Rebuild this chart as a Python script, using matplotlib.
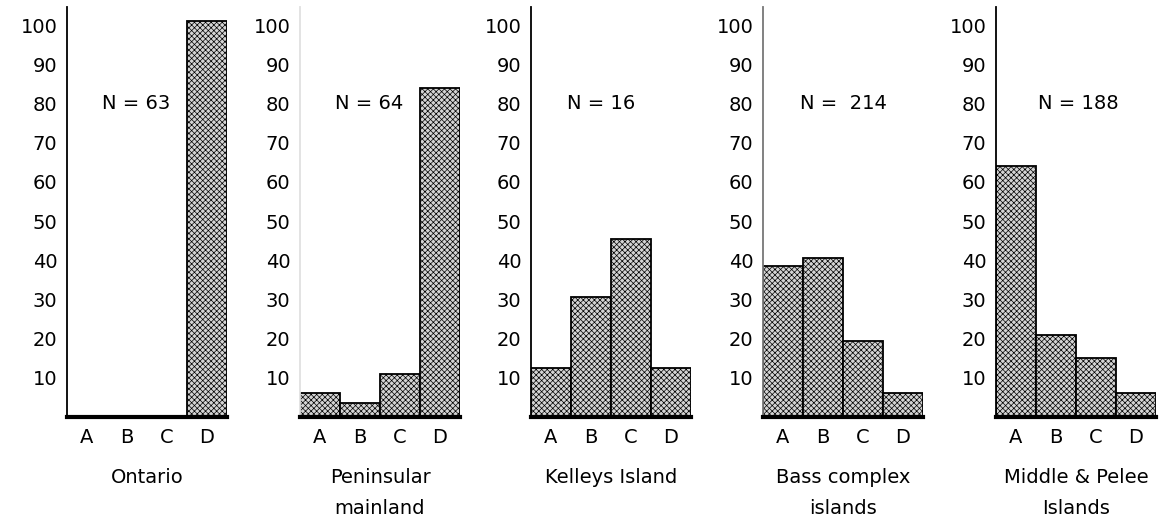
import matplotlib
matplotlib.use("Agg")
import matplotlib.pyplot as plt

plt.rcParams['font.family'] = ['DejaVu Sans']
plt.rcParams['hatch.color'] = '#9a9a9a'
plt.rcParams['hatch.linewidth'] = 0.5

categories = ['A', 'B', 'C', 'D']
regions = ['Ontario', 'Peninsular\nmainland', 'Kelleys Island',
           'Bass complex\nislands', 'Middle & Pelee\nIslands']
n_labels = ['N = 63', 'N = 64', 'N = 16', 'N =  214', 'N = 188']
ontario = [0, 0, 0, 101]
peninsular = [6, 3.5, 11, 84]
kelleys = [12.5, 30.5, 45.5, 12.5]
bass = [38.5, 40.5, 19.5, 6]
middle_pelee = [64, 21, 15, 6]
series = [ontario, peninsular, kelleys, bass, middle_pelee]
yticks = [10, 20, 30, 40, 50, 60, 70, 80, 90, 100]

W, H = 1163, 528
fig = plt.figure(figsize=(W / 100, H / 100), dpi=100)

lefts = [67, 300, 531, 763, 996]
axw = 160
base_y = 417
top_y = 7
ymax = 104.6
n_x = [1.22, 1.22, 1.25, 1.5, 1.57]
spine_colors = ['black', '#e0e0e0', 'black', '#777777', 'black']
fs = 14

for i in range(5):
    ax = fig.add_axes([lefts[i] / W, (H - base_y) / H, axw / W, (base_y - top_y) / H])
    ax.bar(range(4), series[i], width=1.0, color='#d4d4d4', edgecolor='black',
           linewidth=1.3, hatch='xxxxxx', zorder=2)
    ax.set_xlim(-0.5, 3.5)
    ax.set_ylim(0, ymax)
    for s in ['top', 'right']:
        ax.spines[s].set_visible(False)
    ax.spines['left'].set_linewidth(1.3)
    ax.spines['left'].set_color(spine_colors[i])
    ax.spines['bottom'].set_linewidth(3)
    ax.spines['bottom'].set_zorder(3)
    ax.set_xticks(range(4))
    ax.set_xticklabels(categories, fontsize=fs)
    ax.set_yticks(yticks)
    ax.set_yticklabels([str(t) for t in yticks], fontsize=fs)
    ax.tick_params(axis='both', length=0)
    ax.tick_params(axis='y', pad=7)
    ax.tick_params(axis='x', pad=8)
    ax.text(n_x[i], 80, n_labels[i], fontsize=fs, ha='center', va='center')
    ax.text(1.5, -0.125 * ymax, regions[i], fontsize=fs, ha='center', va='top',
            linespacing=1.75, clip_on=False)

fig.savefig('out.png', dpi=100)
